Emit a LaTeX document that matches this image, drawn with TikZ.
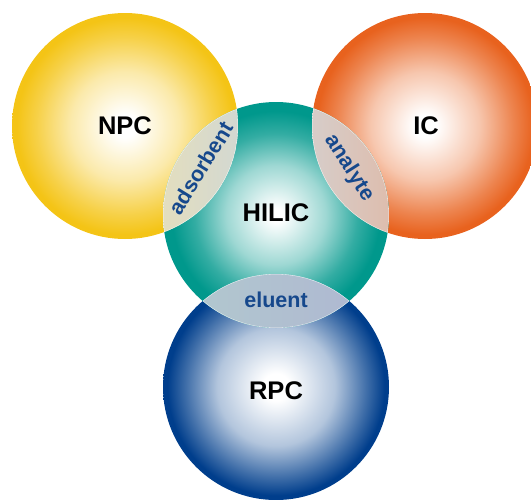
\documentclass[tikz,border=0pt]{standalone}
\usepackage{fontspec}
\setmainfont{Liberation Sans}
\definecolor{npcC}{RGB}{244,196,22}
\definecolor{icC}{RGB}{232,98,30}
\definecolor{hilC}{RGB}{0,152,140}
\definecolor{rpcC}{RGB}{0,62,140}
\definecolor{lblue}{RGB}{22,72,140}
\definecolor{adsL}{RGB}{238,226,178}
\definecolor{adsM}{RGB}{226,226,214}
\definecolor{adsR}{RGB}{200,212,222}
\definecolor{anaL}{RGB}{210,216,220}
\definecolor{anaM}{RGB}{220,210,204}
\definecolor{anaR}{RGB}{226,178,155}
\definecolor{eluT}{RGB}{178,204,206}
\definecolor{eluM}{RGB}{205,212,222}
\definecolor{eluB}{RGB}{174,180,210}
\colorlet{npcA}{npcC!36!white}
\colorlet{npcB}{npcC!78!white}
\colorlet{icA}{icC!36!white}
\colorlet{icB}{icC!78!white}
\colorlet{hilA}{hilC!38!white}
\colorlet{hilB}{hilC!80!white}
\colorlet{rpcA}{rpcC!30!white}
\colorlet{rpcB}{rpcC!75!white}
\pgfdeclareradialshading{npcsh}{\pgfpoint{0bp}{0bp}}{color(0bp)=(white); color(2.5bp)=(white); color(12bp)=(npcA); color(19.5bp)=(npcB); color(24bp)=(npcC); color(50bp)=(npcC)}
\pgfdeclareradialshading{icsh}{\pgfpoint{0bp}{0bp}}{color(0bp)=(white); color(2.5bp)=(white); color(12bp)=(icA); color(19.5bp)=(icB); color(24bp)=(icC); color(50bp)=(icC)}
\pgfdeclareradialshading{hilsh}{\pgfpoint{0bp}{0bp}}{color(0bp)=(white); color(1.5bp)=(white); color(11bp)=(hilA); color(18bp)=(hilB); color(23bp)=(hilC); color(50bp)=(hilC)}
\pgfdeclareradialshading{rpcsh}{\pgfpoint{0bp}{0bp}}{color(0bp)=(white); color(3bp)=(white); color(13bp)=(rpcA); color(20bp)=(rpcB); color(24bp)=(rpcC); color(50bp)=(rpcC)}
\begin{document}
\begin{tikzpicture}[x=1pt,y=-1pt,
  mainlab/.style={font=\bfseries\fontsize{25.5}{30}\selectfont, text=black, inner sep=0pt},
  lenslab/.style={font=\bfseries\fontsize{21.5}{26}\selectfont, text=lblue, inner sep=0pt},
  lensline/.style={draw=white, line width=0.7pt, draw opacity=0.8}]
\useasboundingbox (0,0) rectangle (531,499);
\clip (0,0) rectangle (531,499);
\def\R{113}
\coordinate (cN) at (125,126);
\coordinate (cI) at (425,126);
\coordinate (cH) at (276,215);
\coordinate (cR) at (276,387);
% circles
\shade[shading=npcsh] (cN) circle[radius=\R];
\shade[shading=icsh] (cI) circle[radius=\R];
\shade[shading=rpcsh] (cR) circle[radius=\R];
\shade[shading=hilsh] (cH) circle[radius=\R];
% lens NPC/HILIC
\begin{scope}
  \clip (cN) circle[radius=\R];
  \clip (cH) circle[radius=\R];
  \begin{scope}[shift={(200.5,170.5)}, rotate=-30.5]
    \shade[left color=adsL, middle color=adsM, right color=adsR] (-27,-130) rectangle (27,130);
  \end{scope}
  \draw[lensline] (cN) circle[radius=\R];
  \draw[lensline] (cH) circle[radius=\R];
\end{scope}
% lens HILIC/IC
\begin{scope}
  \clip (cI) circle[radius=\R];
  \clip (cH) circle[radius=\R];
  \begin{scope}[shift={(350.5,170.5)}, rotate=31.4]
    \shade[left color=anaL, middle color=anaM, right color=anaR] (-29,-130) rectangle (29,130);
  \end{scope}
  \draw[lensline] (cI) circle[radius=\R];
  \draw[lensline] (cH) circle[radius=\R];
\end{scope}
% lens HILIC/RPC
\begin{scope}
  \clip (cR) circle[radius=\R];
  \clip (cH) circle[radius=\R];
  \begin{scope}[shift={(276,301)}, rotate=-90]
    \shade[left color=eluT, middle color=eluM, right color=eluB] (-28,-130) rectangle (28,130);
  \end{scope}
  \draw[lensline] (cR) circle[radius=\R];
  \draw[lensline] (cH) circle[radius=\R];
\end{scope}
% labels
\node[mainlab] (npc) at (125,126) {NPC};
\node[mainlab] (ic) at (426,126) {IC};
\node[mainlab] (hilic) at (276,213) {HILIC};
\node[mainlab] (rpc) at (276,391) {RPC};
\node[lenslab, rotate=58.5] (ads) at (201,168) {adsorbent};
\node[lenslab, rotate=-57.5] (ana) at (349,168) {analyte};
\node[lenslab] (elu) at (276,300) {eluent};
\end{tikzpicture}
\end{document}
